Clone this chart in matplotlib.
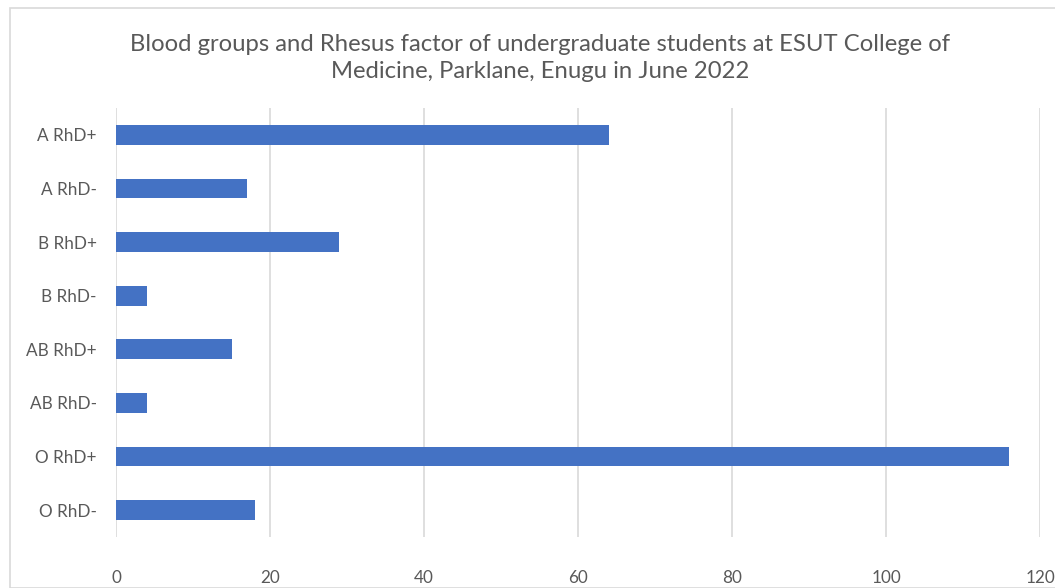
import matplotlib
matplotlib.use("Agg")
import matplotlib.pyplot as plt
from matplotlib.patches import Rectangle

categories = ["A RhD+", "A RhD-", "B RhD+", "B RhD-", "AB RhD+", "AB RhD-", "O RhD+", "O RhD-"]
counts = [64, 17, 29, 4, 15, 4, 116, 18]
xticks = [0, 20, 40, 60, 80, 100, 120]
title = ("Blood groups and Rhesus factor of undergraduate students at ESUT College of\n"
         "Medicine, Parklane, Enugu in June 2022")

plt.rcParams['font.family'] = ['Lato', 'DejaVu Sans']
W, H = 1055, 588
fig = plt.figure(figsize=(W / 100, H / 100), dpi=100)
fig.patch.set_facecolor("white")

# chart border
fig.patches.append(Rectangle((10 / W, 0), 1.2, 1 - 8 / H, transform=fig.transFigure,
                             fill=False, edgecolor="#D9D9D9", linewidth=1.2))

ax = fig.add_axes([116 / W, 1 - 537 / H, (1040 - 116) / W, (537 - 108) / H])
y = list(range(len(categories)))
ax.barh(y, counts, height=0.37, color="#4472C4", zorder=3)
ax.set_xlim(0, 120)
ax.set_ylim(len(categories) - 0.5, -0.5)
ax.set_yticks(y)
ax.set_yticklabels(categories)
ax.set_xticks(xticks)
ax.set_xticklabels([str(t) for t in xticks])
ax.grid(axis="x", color="#D9D9D9", linewidth=1.2, zorder=0)
for s in ax.spines.values():
    s.set_visible(False)
ax.tick_params(axis="both", length=0, colors="#595959", labelsize=12.3)
ax.tick_params(axis="x", pad=24)
ax.tick_params(axis="y", pad=14)
fig.text(540 / W, 1 - 58 / H, title, ha="center", va="center", fontsize=17.2,
         color="#595959", linespacing=1.4)
fig.savefig("out.png", dpi=100)
